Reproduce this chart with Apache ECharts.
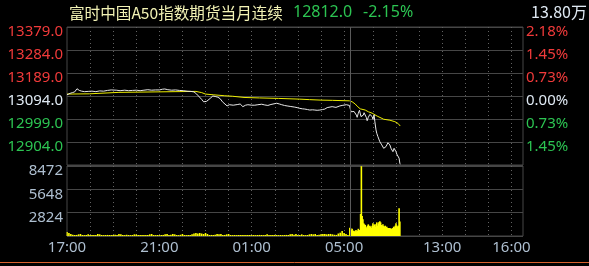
<!DOCTYPE html>
<html>
<head>
<meta charset="utf-8">
<script src="https://cdn.jsdelivr.net/npm/echarts@6/dist/echarts.min.js"></script>
<style>
html,body{margin:0;padding:0;background:#000;}
#c{width:589px;height:266px;}
</style>
</head>
<body>
<div id="c"></div>
<script>
// ---- data ----
const titleText = '富时中国A50指数期货当月连续';
const lastPrice = '12812.0';
const changePct = '-2.15%';
const volumeTotal = '13.80万';
const basePrice = 13094;

const xLabels = ['17:00', '21:00', '01:00', '05:00', '13:00', '16:00'];

const priceTimes = ['17:00','17:04','17:08','17:14','17:20','17:26','17:28','17:32','17:38','17:46','17:55','18:05','18:15','18:25','18:35','18:45','18:55','19:00','19:08','19:18','19:30','19:40','19:50','20:00','20:10','20:20','20:30','20:40','20:50','21:00','21:08','21:14','21:22','21:32','21:42','21:52','22:02','22:12','22:22','22:30','22:37','22:44','22:50','22:55','22:59','23:03','23:06','23:12','23:19','23:25','23:32','23:38','23:44','23:48','23:56','00:02','00:06','00:12','00:17','00:24','00:30','00:37','00:44','00:50','01:00','01:08','01:16','01:26','01:34','01:42','01:50','01:55','02:05','02:12','02:18','02:25','02:32','02:40','02:45','02:52','02:58','03:05','03:12','03:18','03:25','03:31','03:38','03:44','03:50','03:57','04:04','04:10','04:16','04:21','04:29','04:34','04:39','04:44','04:49','04:55','05:00','05:06','05:10','05:14','09:00','09:03','09:06','09:08','09:11','09:14','09:17','09:19','09:22','09:25','09:27','09:29','09:32','09:35','09:37','09:40','09:43','09:45','09:48','09:50','09:52','09:55','09:58','10:00','10:03','10:05','10:08','10:10','10:13','10:18','10:23','10:28','10:31','10:34','10:36','10:39','10:44','10:47','10:50','10:52','10:55','10:57','11:00','11:02','11:05','11:08','11:10','11:11'];
const priceValues = [13099,13103,13105,13108,13111,13124,13126,13117,13114,13112,13113,13114,13112,13115,13114,13117,13119,13122,13118,13116,13118,13116,13117,13118,13116,13118,13120,13118,13119,13119,13122,13123,13120,13118,13119,13117,13116,13114,13113,13111,13102,13090,13080,13070,13064,13072,13075,13084,13094,13092,13089,13083,13070,13064,13053,13058,13060,13056,13057,13059,13061,13050,13056,13058,13056,13056,13058,13060,13057,13055,13059,13062,13064,13061,13058,13055,13053,13051,13050,13048,13046,13043,13041,13040,13038,13036,13037,13036,13035,13036,13038,13040,13046,13047,13050,13048,13047,13051,13053,13055,13056,13058,13060,13055,13050,13029,13023,13033,13030,13027,13015,13006,13023,13035,13043,13009,13002,13015,13025,13023,13005,12992,13006,13012,13018,13012,13009,12998,13016,12988,12954,12940,12926,12905,12892,12878,12882,12885,12893,12901,12892,12878,12870,12864,12878,12871,12864,12854,12857,12837,12816,12812];

const avgTimes = ['17:00','17:58','18:02','19:15','19:20','22:35','22:50','23:00','23:20','23:50','00:10','00:40','01:20','02:10','03:05','03:30','04:00','04:30','05:14','09:00','09:06','09:14','09:19','09:27','09:40','09:48','09:58','10:11','10:28','10:44','10:57','11:05','11:11'];
const avgValues = [13102,13103,13108,13109,13112,13113,13108,13102,13099,13095,13093,13088,13086,13084,13081,13079,13077,13076,13074,13073,13070,13061,13052,13041,13036,13029,13023,13011,12998,12994,12988,12981,12970];

// night session volume, one reading per 5 minutes from 17:00
const nightVolStart = '17:00';
const nightVol = [480,360,240,150,120,130,200,240,120,110,120,200,130,120,110,120,240,200,120,110,120,130,120,110,120,150,120,240,220,120,110,150,120,110,120,200,180,120,110,120,110,120,130,200,240,120,110,120,110,120,130,200,240,120,150,240,200,120,110,150,240,120,110,120,130,200,300,360,300,360,300,240,360,240,120,130,120,150,240,200,240,120,130,200,240,120,110,120,110,120,110,120,110,120,130,120,110,120,110,120,130,120,110,120,200,120,110,120,130,120,110,120,110,120,130,120,200,240,150,240,120,130,200,120,110,120,200,240,200,240,120,150,200,240,240,200,240,250,200,150,130,300,400,600,360,240,120];
// day session volume, one reading per 2 minutes from 09:00
const dayVolStart = '09:00';
const dayVol = [1000,940,720,870,600,650,560,580,720,560,650,870,600,720,2660,8450,2420,2020,1530,1410,1330,1130,950,1250,1410,1130,1250,1130,970,1250,1530,1250,1410,1130,1410,1650,1250,1530,1700,1780,1650,1330,1250,1410,1200,1130,1250,950,1130,970,970,900,970,900,840,900,970,1130,1050,1250,1530,1250,1130,1250,3350,1740];

// ---- axis categories (one per trading minute) ----
function hhmm(m){ m = ((m % 1440) + 1440) % 1440; const h = Math.floor(m/60), mi = m%60; return (h<10?'0':'')+h+':'+(mi<10?'0':'')+mi; }
const categories = [];
for (let m = 17*60; m < 17*60 + 735; m++) categories.push(hhmm(m));
for (let m = 9*60; m <= 16*60 + 30; m++) categories.push(hhmm(m));
const catIndex = {}; categories.forEach((c,i)=>{ if(!(c in catIndex)) catIndex[c]=i; });

const pricePairs = priceTimes.map((t,i)=>[t, priceValues[i]]);
const avgPairs = avgTimes.map((t,i)=>[t, avgValues[i]]);
const volPairs = [];
nightVol.forEach((v,i)=>{ volPairs.push([categories[catIndex[nightVolStart] + i*5], v]); });
dayVol.forEach((v,i)=>{ volPairs.push([categories[catIndex[dayVolStart] + i*2], v]); });

const labelSet = new Set(xLabels);
const RED = '#f03a3a', GREEN = '#2cc452', WHITE = '#dfe9f3', GREY = '#aebfd0';
const FONT = 'Noto Sans';
const pMin = 12809, pMax = 13379, pInt = 95;
const dotted = {show:true, interval:(i,v)=> i!==0 && v.endsWith(':00') && v!=='09:00', lineStyle:{color:'#626262', type:[1,3], width:1}};

const chart = echarts.init(document.getElementById('c'), null, {renderer:'canvas'});
const lineCol = '#464646';
const yLab = {fontFamily: FONT, fontSize: 15, verticalAlign:'top', lineHeight: 10};
chart.setOption({
  backgroundColor: '#000',
  animation: false,
  grid: [
    {left: 67, right: 66, top: 27, height: 138, show: true, borderColor: lineCol, borderWidth: 1},
    {left: 67, right: 66, top: 166, height: 70, show: true, borderColor: lineCol, borderWidth: 1}
  ],
  xAxis: [
    {type:'category', gridIndex:0, data: categories, boundaryGap:false,
     axisLine:{show:false}, axisTick:{show:false}, axisLabel:{show:false}, splitLine: dotted},
    {type:'category', gridIndex:1, data: categories, boundaryGap:false,
     axisLine:{show:false}, axisTick:{show:false},
     axisLabel:{show:true, interval:(i,v)=> labelSet.has(v), color: GREY, fontFamily: FONT, fontSize: 15, margin: 4},
     splitLine: dotted}
  ],
  yAxis: [
    {type:'value', gridIndex:0, min:pMin, max:pMax, interval:pInt, position:'left',
     axisLine:{show:false}, axisTick:{show:false},
     splitLine:{show:true, lineStyle:{color:lineCol, width:1}},
     axisLabel:Object.assign({margin:4,
       formatter: v => v <= pMin ? '' : v.toFixed(1),
       color: v => v > basePrice ? RED : (v < basePrice ? GREEN : WHITE)}, yLab)},
    {type:'value', gridIndex:0, min:pMin, max:pMax, interval:pInt, position:'right',
     axisLine:{show:false}, axisTick:{show:false}, splitLine:{show:false},
     axisLabel:Object.assign({margin:3,
       formatter: v => v <= pMin ? '' : Math.abs((v-basePrice)/basePrice*100).toFixed(2)+'%',
       color: v => v > basePrice ? RED : (v < basePrice ? GREEN : WHITE)}, yLab)},
    {type:'value', gridIndex:1, min:0, max:8472, interval:2824, position:'left',
     axisLine:{show:false}, axisTick:{show:false},
     splitLine:{show:true, lineStyle:{color:lineCol, width:1}},
     axisLabel:Object.assign({margin:4, color: GREY,
       formatter: v => v === 0 ? '' : String(v)}, yLab)}
  ],
  series: [
    {type:'line', xAxisIndex:0, yAxisIndex:0, data: pricePairs, showSymbol:false, symbol:'none',
     lineStyle:{color:'#e8e8e8', width:1}, itemStyle:{color:'#e8e8e8'}, z:4,
     markLine:{silent:true, symbol:'none', label:{show:false}, animation:false,
       lineStyle:{color:'#5a5a5a', type:'solid', width:1}, data:[{xAxis:'09:00'}]}},
    {type:'line', xAxisIndex:0, yAxisIndex:0, data: avgPairs, showSymbol:false, symbol:'none',
     lineStyle:{color:'#eeee00', width:1}, itemStyle:{color:'#eeee00'}, z:3},
    {type:'bar', xAxisIndex:1, yAxisIndex:2, data: volPairs, barWidth:1.6,
     itemStyle:{color:'#ffff00'}, z:3,
     markLine:{silent:true, symbol:'none', label:{show:false}, animation:false,
       lineStyle:{color:'#5a5a5a', type:'solid', width:1}, data:[{xAxis:'09:00'}]}}
  ],
  graphic: [
    {type:'text', left:69, top:5, style:{text:titleText, fill:'#f2f2b4', font:'15.6px "Noto Sans CJK SC"'}},
    {type:'text', left:293, top:4, style:{text:lastPrice, fill:GREEN, font:'16px "Noto Sans"'}},
    {type:'text', left:363, top:4, style:{text:changePct, fill:GREEN, font:'16px "Noto Sans"'}},
    {type:'text', left:531, top:4, style:{text:volumeTotal, fill:WHITE, font:'16px "Noto Sans CJK SC"'}},
    {type:'line', shape:{x1:0, y1:262.5, x2:589, y2:262.5}, style:{stroke:'#d9602c', lineWidth:1}}
  ]
});
</script>
</body>
</html>
